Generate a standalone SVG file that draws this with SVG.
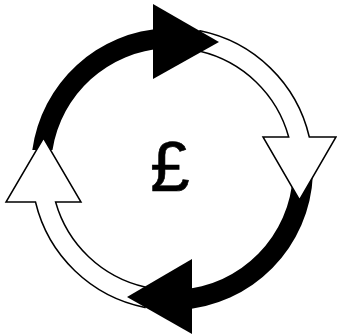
<svg xmlns="http://www.w3.org/2000/svg" width="337" height="335" viewBox="0 0 337 335">
<style>
.b{fill:#000}
.w{fill:#fff;stroke:#000;stroke-width:1.5;stroke-linejoin:miter}
.t{font-family:"Liberation Sans",Arial,sans-serif;font-size:71px;fill:#000;text-anchor:middle;stroke:#000;stroke-width:0.6}
</style>
<g id="connectors">
<path id="arc-top-left" class="b" d="M32.300 150A141 141 0 0 1 165 28.200V48.200A121 121 0 0 0 52.500 150Z"/>
<path id="arc-bottom-right" class="b" d="M312.900 175A141 141 0 0 1 180 309.800V289.700A121 121 0 0 0 292.900 175Z"/>
</g>
<g id="node-right"><path class="w" d="M200 30.800A141 141 0 0 1 309.300 137H336L299.500 200L263 137H288.700A121 121 0 0 0 200 51.300Z"/></g>
<g id="node-left"><path class="w" d="M145 307.400A141 141 0 0 1 35.500 202H6L43.500 138L81 202H55.600A121 121 0 0 0 145 287Z"/></g>
<g id="node-top"><polygon class="b" points="153,4 153,79 219,42"/></g>
<g id="node-bottom"><polygon class="b" points="192,259 192,334 127,297"/></g>
<g id="node-center"><text class="t" x="170" y="191">£</text></g>
</svg>
